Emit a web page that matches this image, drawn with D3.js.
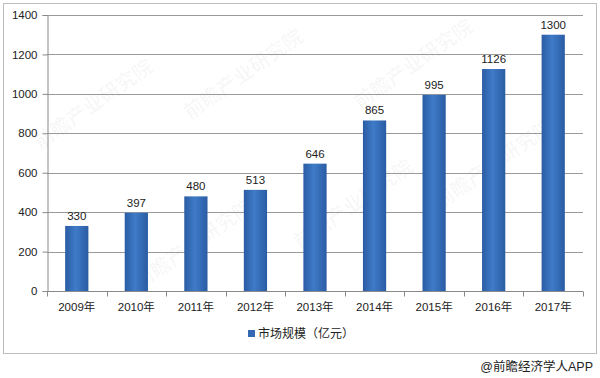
<!DOCTYPE html>
<html>
<head>
<meta charset="utf-8">
<script src="https://cdn.jsdelivr.net/npm/d3@7"></script>
<style>
  body { margin: 0; background: #fff; }
  svg { display: block; font-family: "Liberation Sans", Arial, "Noto Sans CJK SC", sans-serif; }
</style>
</head>
<body>
<script>
const years = ["2009年", "2010年", "2011年", "2012年", "2013年", "2014年", "2015年", "2016年", "2017年"]
const marketSize = [330, 397, 480, 513, 646, 865, 995, 1126, 1300]
const yTicks = [0, 200, 400, 600, 800, 1000, 1200, 1400]
const seriesName = "市场规模（亿元）"
const sourceText = "@前瞻经济学人APP"

const W = 600, H = 378
const margin = {left: 47, right: 17, top: 15, bottom: 87}

const svg = d3.select("body").append("svg")
    .attr("width", W)
    .attr("height", H)

// bar gradient
const defs = svg.append("defs")
const grad = defs.append("linearGradient")
    .attr("id", "barGrad")
    .attr("x1", "0%").attr("x2", "100%")
    .attr("y1", "0%").attr("y2", "0%")
grad.append("stop").attr("offset", "0%").attr("stop-color", "#2a5ca3")
grad.append("stop").attr("offset", "45%").attr("stop-color", "#3f7bc8")
grad.append("stop").attr("offset", "100%").attr("stop-color", "#2a5ca3")

// outer frame
svg.append("rect")
    .attr("x", 3.5).attr("y", 3.5)
    .attr("width", 593).attr("height", 350)
    .attr("fill", "none")
    .attr("stroke", "#bdbdbd")

const x = d3.scaleBand()
    .domain(years)
    .range([margin.left, W - margin.right])
    .paddingInner(0.61)
    .paddingOuter(0.305)

const y = d3.scaleLinear()
    .domain([0, 1400])
    .range([H - margin.bottom, margin.top])

// faint watermarks, kept inside the frame
const wm = [[40, 150], [190, 120], [360, 110], [140, 290], [300, 250], [440, 210]]
svg.append("g").selectAll("text")
    .data(wm)
    .enter()
    .append("text")
    .attr("transform", d => `translate(${d[0]},${d[1]}) rotate(-35)`)
    .attr("font-size", 20)
    .attr("font-weight", "bold")
    .attr("fill", "#000")
    .attr("fill-opacity", 0.035)
    .text("前瞻产业研究院")

// gridlines
svg.append("g")
    .selectAll("line")
    .data(yTicks.slice(1))
    .enter()
    .append("line")
    .attr("x1", margin.left)
    .attr("x2", W - margin.right)
    .attr("y1", d => Math.round(y(d)) + 0.5)
    .attr("y2", d => Math.round(y(d)) + 0.5)
    .attr("stroke", "#9a9a9a")
    .attr("stroke-width", 1)

// y axis
const yAxis = svg.append("g")
    .attr("transform", `translate(${margin.left + 0.5},0)`)
    .call(d3.axisLeft(y).tickValues(yTicks).tickFormat(d3.format("d")).tickSize(5).tickPadding(5))
yAxis.select(".domain").attr("stroke", "#8a8a8a")
yAxis.selectAll(".tick line").attr("stroke", "#8a8a8a")
yAxis.selectAll("text").attr("font-size", 11.5).attr("fill", "#222")
    .attr("font-family", "Liberation Sans, Arial, sans-serif")

// x axis line with ticks at category boundaries
const x0 = Math.round(y(0)) + 0.5
svg.append("line")
    .attr("x1", margin.left).attr("x2", W - margin.right)
    .attr("y1", x0).attr("y2", x0)
    .attr("stroke", "#8a8a8a")
const step = x.step()
svg.append("g").selectAll("line")
    .data(d3.range(years.length + 1))
    .enter()
    .append("line")
    .attr("x1", i => Math.round(margin.left + i * step) + 0.5)
    .attr("x2", i => Math.round(margin.left + i * step) + 0.5)
    .attr("y1", x0).attr("y2", x0 + 5)
    .attr("stroke", "#8a8a8a")

svg.append("g").selectAll("text")
    .data(years)
    .enter()
    .append("text")
    .attr("x", d => x(d) + x.bandwidth() / 2)
    .attr("y", x0 + 19)
    .attr("text-anchor", "middle")
    .attr("font-size", 11.5)
    .attr("fill", "#222")
    .text(d => d)

// bars
svg.append("g").selectAll("rect")
    .data(marketSize)
    .enter()
    .append("rect")
    .attr("x", (d, i) => x(years[i]))
    .attr("y", d => y(d))
    .attr("width", x.bandwidth())
    .attr("height", d => y(0) - y(d))
    .attr("fill", "url(#barGrad)")

// value labels
svg.append("g").selectAll("text")
    .data(marketSize)
    .enter()
    .append("text")
    .attr("x", (d, i) => x(years[i]) + x.bandwidth() / 2)
    .attr("y", d => y(d) - 6)
    .attr("text-anchor", "middle")
    .attr("font-size", 11.5)
    .attr("fill", "#222")
    .text(d => d)

// legend
const lg = svg.append("g").attr("transform", "translate(248,334)")
lg.append("rect")
    .attr("x", 0).attr("y", -4)
    .attr("width", 7).attr("height", 7)
    .attr("fill", "#3468b3")
lg.append("text")
    .attr("x", 10).attr("y", 4)
    .attr("font-size", 12)
    .attr("fill", "#222")
    .text(seriesName)

// source
svg.append("text")
    .attr("x", 593).attr("y", 371)
    .attr("text-anchor", "end")
    .attr("font-size", 12.5)
    .attr("fill", "#222")
    .text(sourceText)
</script>
</body>
</html>
